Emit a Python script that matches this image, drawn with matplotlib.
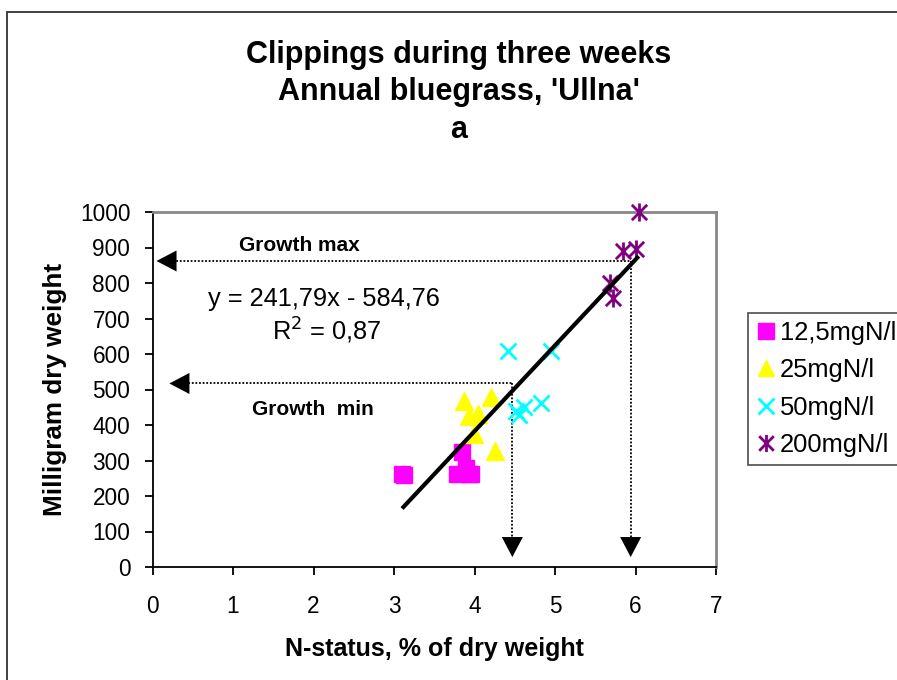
import matplotlib
matplotlib.use("Agg")
import matplotlib.pyplot as plt
from matplotlib.path import Path
from matplotlib.patches import Rectangle
import numpy as np

plt.rcParams['font.family'] = ['Liberation Sans', 'DejaVu Sans']

# ---- data ----
x_125 = [3.10, 3.12, 3.78, 3.84, 3.89, 3.93, 3.96]
y_125 = [262, 258, 262, 325, 280, 262, 262]
x_25 = [3.87, 4.20, 3.93, 4.04, 3.99, 4.26]
y_25 = [468, 480, 426, 430, 375, 326]
x_50 = [4.42, 4.95, 4.51, 4.55, 4.62, 4.83]
y_50 = [609, 609, 440, 428, 450, 461]
x_200 = [6.04, 5.85, 6.00, 5.68, 5.72]
y_200 = [1001, 890, 895, 799, 757]
series_labels = ['12,5mgN/l', '25mgN/l', '50mgN/l', '200mgN/l']

slope, intercept = 241.79, -584.76
fit_x = [3.10, 6.04]

growth_max = dict(x=5.94, y=862, tip_x=0.05, label='Growth max')
growth_min = dict(x=4.47, y=517, tip_x=0.21, label='Growth  min')

x_ticks = [0, 1, 2, 3, 4, 5, 6, 7]
y_ticks = [0, 100, 200, 300, 400, 500, 600, 700, 800, 900, 1000]

# ---- figure ----
W, H = 897, 680
fig = plt.figure(figsize=(W / 100, H / 100), dpi=100)
ax = fig.add_axes([152.5 / W, 1 - 567 / H, (716 - 152.5) / W, (567 - 212) / H])

# outer chart border
fig.patches.append(Rectangle((7 / W, -0.1), 1.2, 1 - 12 / H + 0.1, transform=fig.transFigure,
                             fill=False, edgecolor='#333333', lw=1.3))

star_path = Path([(0, -1), (0, 1), (-0.85, -0.85), (0.85, 0.85), (-0.85, 0.85), (0.85, -0.85)],
                 [Path.MOVETO, Path.LINETO, Path.MOVETO, Path.LINETO, Path.MOVETO, Path.LINETO])

h1, = ax.plot(x_125, y_125, 's', color='#FF00FF', ms=12, mec='#FF00FF', ls='none', clip_on=False, zorder=3)
h2, = ax.plot(x_25, y_25, '^', color='#FFFF00', ms=12.5, mec='#FFFF00', ls='none', clip_on=False, zorder=3)
h3, = ax.plot(x_50, y_50, 'x', color='#00FFFF', ms=11.5, mew=2, ls='none', clip_on=False, zorder=3)
h4, = ax.plot(x_200, y_200, marker=star_path, color='#800080', ms=13, mew=2, ls='none', clip_on=False, zorder=3)

fx = np.array(fit_x)
ax.plot(fx, slope * fx + intercept, color='black', lw=3, zorder=4, solid_capstyle='butt')

# growth arrows
head = dict(arrowstyle='-|>,head_length=0.8,head_width=0.42', color='black', lw=0.01,
            mutation_scale=18, shrinkA=0, shrinkB=0)
for g in (growth_max, growth_min):
    ax.plot([g['tip_x'] + 0.15, g['x']], [g['y'], g['y']], color='black', lw=1.3, ls=(0, (1, 1)), zorder=2)
    ax.plot([g['x'], g['x']], [g['y'], 60], color='black', lw=1.3, ls=(0, (1, 1)), zorder=2)
    ax.annotate('', xy=(g['tip_x'], g['y']), xytext=(g['tip_x'] + 0.3, g['y']), arrowprops=head)
    ax.annotate('', xy=(g['x'], 28), xytext=(g['x'], 95), arrowprops=head)

ax.text(1.82, 907, growth_max['label'], fontsize=15, fontweight='bold', ha='center', va='center')
ax.text(1.99, 445, growth_min['label'], fontsize=15, fontweight='bold', ha='center', va='center')
ax.text(2.13, 755, 'y = 241,79x - 584,76', fontsize=18.3, ha='center', va='center')
ax.text(2.16, 664, 'R$^2$ = 0,87', fontsize=18.3, ha='center', va='center')

ax.set_xlim(0, 7)
ax.set_ylim(0, 1000)
ax.set_xticks(x_ticks)
ax.set_yticks(y_ticks)
ax.tick_params(axis='both', direction='out', length=6, width=1.3, labelsize=16.3, color='black')
ax.tick_params(axis='x', pad=14)
ax.tick_params(axis='y', pad=10)
for s in ('top', 'right'):
    ax.spines[s].set_color('#888888')
    ax.spines[s].set_linewidth(2)
for s in ('left', 'bottom'):
    ax.spines[s].set_color('black')
    ax.spines[s].set_linewidth(1.3)

ax.set_xlabel('N-status, % of dry weight', fontsize=18, fontweight='bold', labelpad=13.5)
ax.set_ylabel('Milligram dry weight', fontsize=18.8, fontweight='bold', labelpad=9.5)

fig.text(459 / W, 1 - 55 / H, 'Clippings during three weeks', fontsize=22, fontweight='bold', ha='center', va='center')
fig.text(459 / W, 1 - 92 / H, "Annual bluegrass, 'Ullna'", fontsize=22, fontweight='bold', ha='center', va='center')
fig.text(459 / W, 1 - 130 / H, 'a', fontsize=22, fontweight='bold', ha='center', va='center')

leg = fig.legend([h1, h2, h3, h4], series_labels, loc='upper left',
                 bbox_to_anchor=(748 / W, 1 - 313 / H), bbox_transform=fig.transFigure,
                 fontsize=18.4, frameon=True, fancybox=False, edgecolor='#333333',
                 borderaxespad=0, handlelength=0.8, handletextpad=0.15, labelspacing=0.53,
                 borderpad=0.3, markerscale=0.95)
leg.get_frame().set_linewidth(1.3)

fig.savefig('out.png', dpi=100)
